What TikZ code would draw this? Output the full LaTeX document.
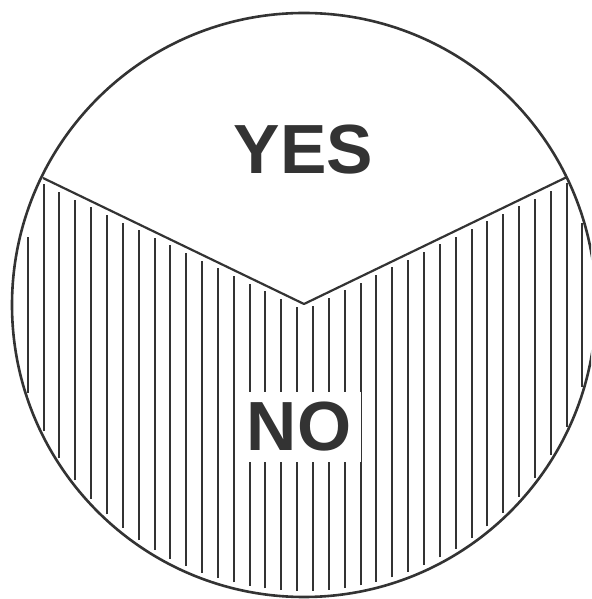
\documentclass[tikz,border=0pt]{standalone}
\usepackage{fontspec}
\setmainfont{Liberation Sans}
\begin{document}
\begin{tikzpicture}[x=1pt,y=1pt,line join=round]
\definecolor{ink}{gray}{0.2}
\tikzset{
  outline/.style={draw=ink,line width=2.6pt},
  divider/.style={draw=ink,line width=2.2pt},
  hatch/.style={draw=ink,line width=2pt},
  lbl/.style={font=\fontsize{69.6}{70}\selectfont\bfseries,text=ink,inner sep=0pt}
}
\useasboundingbox (0,0) rectangle (591,599);
\clip (0,0) rectangle (591,599);
\coordinate (c) at (304,294);
\foreach \k in {0,...,35} {
  \pgfmathsetmacro\xx{27.7+15.85*\k}
  \pgfmathsetmacro\uu{(\xx-304)/292}
  \pgfmathsetmacro\hh{292*sqrt(1-\uu*\uu)}
  \pgfmathsetmacro\yv{295+0.4828*abs(\xx-304)}
  \pgfmathsetmacro\ytop{min(\yv,294+\hh-(\k==0)*20)-6}
  \pgfmathsetmacro\ybot{294-\hh+6}
  \draw[hatch] (\xx,\ybot) -- (\xx,\ytop);
}
\draw[outline] (c) circle[radius=292];
\coordinate (vl) at (43,421);
\coordinate (vm) at (304,295);
\coordinate (vr) at (567,422);
\draw[divider] (vl) -- (vm) -- (vr);
\node[lbl] (yes) at (303.5,449) {YES};
\node[lbl,fill=white,minimum width=124pt,minimum height=70pt] (no) at (299,172) {NO};
\end{tikzpicture}
\end{document}
